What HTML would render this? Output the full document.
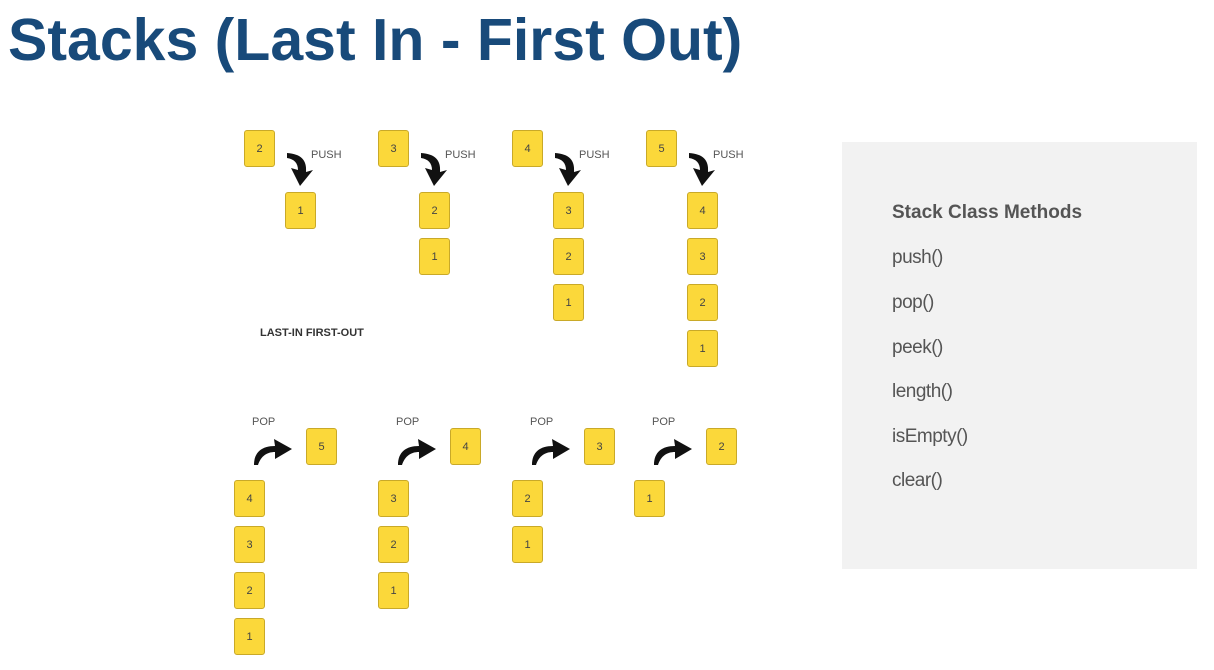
<!DOCTYPE html>
<html><head><meta charset="utf-8"><style>
body{margin:0;width:1214px;height:670px;background:#fff;position:relative;overflow:hidden;font-family:"Liberation Sans",sans-serif}
#title{position:absolute;left:8px;top:6px;font-size:59px;font-weight:bold;color:#184a7a;letter-spacing:0px;white-space:nowrap}
.box{position:absolute;width:29px;height:35px;background:#fbd83a;border:1px solid #c9a928;border-radius:3px;font-size:11px;color:#444;display:flex;align-items:center;justify-content:center}
.lbl{position:absolute;font-size:11px;color:#555}
#panel{position:absolute;left:842px;top:142px;width:355px;height:427px;background:#f2f2f2}
#panel div{position:absolute;left:50px;font-size:19px;color:#555;letter-spacing:-0.5px}
svg{position:absolute;left:0;top:0}
</style></head><body>
<div id="title">Stacks (Last In - First Out)</div>
<div class="lbl" style="left:260px;top:327px;font-weight:bold;color:#333;font-size:11px">LAST-IN FIRST-OUT</div>
<div id="panel">
<div style="top:60px;font-weight:bold;letter-spacing:0">Stack Class Methods</div>
<div style="top:105px">push()</div>
<div style="top:150px">pop()</div>
<div style="top:195px">peek()</div>
<div style="top:239px">length()</div>
<div style="top:284px">isEmpty()</div>
<div style="top:328px">clear()</div>
</div>
<svg id="arrows" width="1214" height="670"></svg>
<script>
const pushValues=[2,3,4,5];
const popValues=[5,4,3,2];
const pushX=[244,378,512,646];
const popX=[234,378,512,634];
function box(x,y,t,name){const b=document.createElement('div');b.className='box';b.style.left=x+'px';b.style.top=y+'px';b.textContent=t;


document.body.appendChild(b);}
function lbl(x,y,t,name){const l=document.createElement('div');l.className='lbl';l.style.left=x+'px';l.style.top=y+'px';l.textContent=t;


document.body.appendChild(l);}
const svg=document.getElementById('arrows');
function path(d,name){const p=document.createElementNS('http://www.w3.org/2000/svg','path');p.setAttribute('d',d);p.setAttribute('fill','#111');


svg.appendChild(p);}
pushValues.forEach((v,i)=>{const x=pushX[i];
box(x,130,v,'push-incoming-'+v);
lbl(x+67,149,'PUSH','push-label');
for(let k=v-1;k>=1;k--){box(x+41,192+(v-1-k)*46,k,'push-stack-box-'+k);}
const ax=x+43;
path(`M${ax},153 C${ax+14},154 ${ax+20},160 ${ax+19},172 L${ax+26},170 L${ax+13},186 L${ax+4},168 L${ax+11},170 C${ax+11},163 ${ax+7},159 ${ax},158 Z`,'push-arrow');
});
popValues.forEach((v,i)=>{const x=popX[i];
box(x+72,428,v,'popped-box-'+v);
lbl(x+18,416,'POP','pop-label');
for(let k=v-1;k>=1;k--){box(x,480+(v-1-k)*46,k,'pop-stack-box-'+k);}
const ax=x+20;
path(`M${ax},465 C${ax},452 ${ax+8},446 ${ax+21},446 L${ax+20},439 L${ax+38},449 L${ax+21},459 L${ax+21},452 C${ax+13},452 ${ax+7},456 ${ax+4},465 Z`,'pop-arrow');
});
</script>
</body></html>
